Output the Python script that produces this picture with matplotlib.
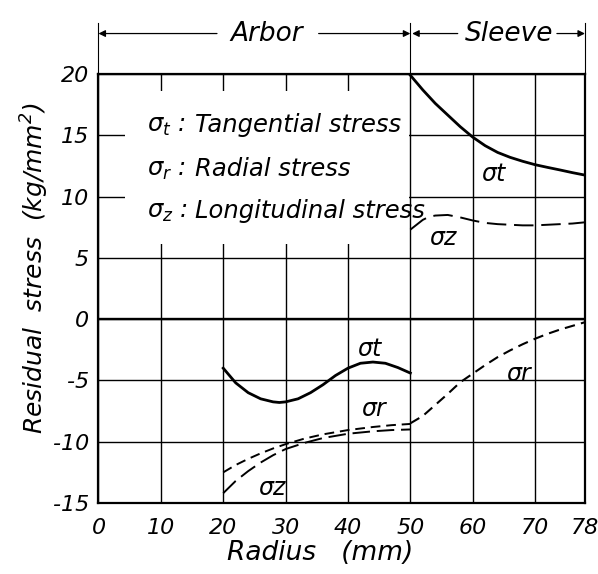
import numpy as np
import matplotlib
matplotlib.use("Agg")
import matplotlib.pyplot as plt
from matplotlib.patches import Rectangle

# --- Values (radius in mm, stress in kg/mm^2)
arbor_r = [20, 21, 22, 24, 26, 28, 29, 30, 32, 34, 36, 38, 40, 42, 44, 46, 48, 50]
arbor_t = [-4.0, -4.6, -5.2, -6.0, -6.5, -6.75, -6.8, -6.75, -6.5, -6.0,
           -5.35, -4.6, -4.0, -3.6, -3.5, -3.6, -3.95, -4.4]

arbor_r2 = [20, 22, 24, 26, 28, 30, 33, 36, 40, 44, 47, 50]
arbor_rad = [-12.5, -11.9, -11.4, -10.95, -10.55, -10.2, -9.75, -9.4, -9.05, -8.8, -8.65, -8.55]
arbor_z = [-14.2, -13.2, -12.4, -11.7, -11.1, -10.6, -10.1, -9.7, -9.35, -9.15, -9.05, -9.0]

sleeve_r = [50, 52, 54, 56, 58, 60, 62, 64, 66, 68, 70, 72, 74, 76, 78]
sleeve_t = [19.9, 18.7, 17.6, 16.65, 15.7, 14.85, 14.15, 13.6, 13.2, 12.88,
            12.6, 12.38, 12.17, 11.95, 11.75]
sleeve_rad = [-8.5, -7.9, -7.0, -6.1, -5.15, -4.45, -3.75, -3.1, -2.55, -2.05,
              -1.6, -1.2, -0.85, -0.55, -0.25]

sleeve_rz = [50, 51, 52, 53, 54, 56, 58, 60, 62, 64, 66, 68, 70, 72, 74, 76, 78]
sleeve_z = [7.3, 7.7, 8.1, 8.35, 8.45, 8.5, 8.3, 8.05, 7.85, 7.75, 7.7, 7.65,
            7.65, 7.7, 7.75, 7.8, 7.9]

xticks = [0, 10, 20, 30, 40, 50, 60, 70, 78]
yticks = [20, 15, 10, 5, 0, -5, -10, -15]

plt.rcParams['font.family'] = ['DejaVu Sans']
plt.rcParams['font.style'] = 'italic'
plt.rcParams['mathtext.fontset'] = 'dejavusans'
plt.rcParams['mathtext.default'] = 'it'
plt.rcParams['axes.unicode_minus'] = False

fig = plt.figure(figsize=(5.98, 5.74), dpi=100)
ax = fig.add_axes([0.1647, 0.1237, 0.8135, 0.7474])

ax.set_xlim(0, 78)
ax.set_ylim(-15, 20)
ax.set_xticks(xticks)
ax.set_yticks(yticks)
ax.tick_params(length=0, labelsize=16)
ax.tick_params(axis='x', pad=11)
ax.tick_params(axis='y', pad=7)
ax.set_axisbelow(True)
ax.grid(True, color='black', lw=1.0)
for s in ax.spines.values():
    s.set_linewidth(1.6)
ax.axhline(0, color='black', lw=1.7, zorder=1.5)

# blank area behind the legend text
ax.add_patch(Rectangle((4.3, 6.1), 45.5, 12.5, facecolor='white',
                       edgecolor='none', zorder=1))

# --- curves
ax.plot(arbor_r, arbor_t, color='black', lw=2.0, zorder=3)
ax.plot(sleeve_r, sleeve_t, color='black', lw=2.0, zorder=3)
ax.plot(arbor_r2, arbor_rad, color='black', lw=1.4, dashes=(5, 3), zorder=3)
ax.plot(sleeve_r, sleeve_rad, color='black', lw=1.5, dashes=(5, 3), zorder=3)
ax.plot(arbor_r2, arbor_z, color='black', lw=1.4, dashes=(9, 3.5), zorder=3)
ax.plot(sleeve_rz, sleeve_z, color='black', lw=1.4, dashes=(10, 4), zorder=3)

# --- curve labels
lab = dict(fontsize=17, ha='center', va='center', zorder=4)
ax.text(43.5, -2.4, 'σt', **lab)
ax.text(44.1, -7.3, 'σr', **lab)
ax.text(27.8, -13.8, 'σz', **lab)
ax.text(63.3, 11.8, 'σt', **lab)
ax.text(55.3, 6.6, 'σz', **lab)
ax.text(67.3, -4.5, 'σr', **lab)

# --- legend block
leg = [(r'$\sigma_t$ :', 'Tangential stress', 15.3),
       (r'$\sigma_r$ :', 'Radial stress', 11.66),
       (r'$\sigma_z$ :', 'Longitudinal stress', 8.26)]
for sym, name, yb in leg:
    ax.text(7.7, yb, sym, fontsize=17.5, va='baseline', ha='left', zorder=4)
    ax.text(15.5, yb, name, fontsize=17.5, va='baseline', ha='left', zorder=4)

# --- Arbor / Sleeve dimension lines above the plot
ya = 23.3
for xv in [0, 50, 78]:
    ax.plot([xv, xv], [20, 24.2], color='black', lw=0.8, clip_on=False)
arr = dict(arrowstyle='-|>', lw=0.9, color='black', mutation_scale=10,
           shrinkA=0, shrinkB=0)
for x0, x1 in [(19.0, 0), (35.3, 50), (57.6, 50.3), (73.5, 78)]:
    ax.annotate('', xy=(x1, ya), xytext=(x0, ya), arrowprops=arr,
                annotation_clip=False)
ax.text(27.0, ya, 'Arbor', fontsize=19, ha='center', va='center', clip_on=False)
ax.text(65.8, ya, 'Sleeve', fontsize=19, ha='center', va='center', clip_on=False)

# --- axis titles
fig.text(320 / 598, 1 - 553 / 574, 'Radius   (mm)', fontsize=19,
         ha='center', va='center')
fig.text(35 / 598, 1 - 268 / 574, r'Residual  stress  (kg/mm$^2$)',
         fontsize=18, rotation=90, ha='center', va='center')

fig.savefig('out.png', dpi=100)
